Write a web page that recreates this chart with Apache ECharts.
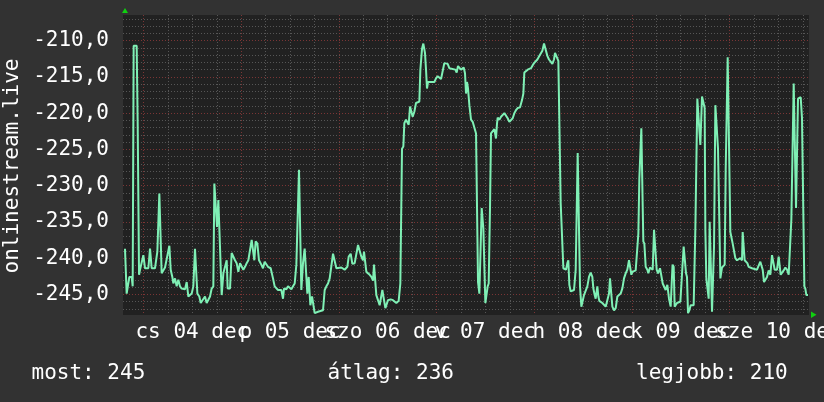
<!DOCTYPE html>
<html>
<head>
<meta charset="utf-8">
<script src="https://cdn.jsdelivr.net/npm/echarts@6/dist/echarts.min.js"></script>
<style>
html,body{margin:0;padding:0;background:#323232;}
#chart{width:824px;height:402px;}
</style>
</head>
<body>
<div id="chart"></div>
<script>
// hours since 04 dec 00:00
const hours = [-4.55,-4.14,-3.97,-3.48,-2.91,-2.66,-2.42,-1.68,-1.43,-1.10,-0.86,-0.45,-0.04,0.37,1.19,1.60,2.01,2.82,3.40,3.89,4.22,4.46,4.87,5.28,5.69,6.35,6.68,7.08,7.33,7.74,8.15,8.56,8.97,9.38,10.20,10.61,11.02,11.43,11.84,12.24,12.65,12.90,13.23,13.72,14.05,14.54,15.11,15.52,15.93,16.34,16.75,17.16,17.41,17.73,18.06,18.39,18.80,19.21,19.62,20.03,20.44,20.68,21.26,21.66,22.07,22.48,22.89,23.30,23.71,24.12,24.53,24.94,25.35,25.76,26.17,26.58,26.99,27.23,27.56,27.97,28.14,28.38,28.95,29.36,29.77,30.18,30.59,31.25,31.82,32.23,32.64,33.05,33.87,34.28,34.52,35.10,35.51,35.92,36.33,36.74,37.15,37.56,37.97,38.21,38.54,38.78,39.19,39.60,40.01,40.26,40.59,41.00,41.41,41.81,42.06,42.47,42.88,43.29,44.11,44.52,44.93,45.34,45.75,46.16,46.57,46.98,47.39,47.79,48.61,49.43,50.09,50.42,50.91,51.32,51.89,52.30,52.71,53.12,53.53,53.94,54.18,54.51,54.76,55.17,55.58,55.99,56.40,56.64,56.97,57.21,57.62,58.03,58.44,58.69,59.02,59.43,59.75,60.08,60.74,61.31,61.72,62.13,62.70,63.11,63.36,63.52,63.85,64.09,64.50,64.91,65.16,65.49,65.90,66.14,66.55,66.96,67.37,67.78,68.03,68.19,68.44,68.76,69.17,69.42,69.66,69.91,70.65,71.47,71.88,72.29,72.70,73.11,73.51,73.92,74.33,74.74,75.15,75.56,76.63,76.95,77.28,77.61,78.02,78.68,79.00,79.25,79.49,79.74,80.07,80.48,80.89,81.30,81.71,81.95,82.20,82.53,82.77,83.10,83.51,83.75,84.00,84.33,84.57,84.82,85.15,85.39,85.80,86.21,86.62,86.87,87.03,87.44,87.85,88.26,88.67,89.08,89.49,89.90,90.31,90.72,91.13,91.52,91.94,92.52,93.01,93.34,93.58,93.99,94.40,94.81,95.22,95.63,95.96,96.37,96.78,97.19,97.60,98.01,98.42,98.82,99.23,99.64,100.05,100.46,100.87,101.12,101.53,101.94,102.35,102.51,102.92,103.17,103.49,103.82,104.15,104.39,104.64,104.97,105.38,105.79,106.20,106.44,106.69,107.02,107.26,107.59,108.00,108.24,108.65,109.06,109.47,109.88,110.29,110.54,110.87,111.11,111.52,111.77,112.01,112.34,112.75,113.16,113.57,113.98,114.39,114.63,114.96,115.21,115.62,116.03,116.44,116.85,117.25,117.66,118.07,118.48,118.89,119.30,119.55,119.88,120.12,120.94,121.35,121.60,121.84,122.09,122.33,122.58,122.82,123.07,123.40,123.81,124.05,124.46,124.79,125.12,125.45,125.86,126.10,126.43,126.92,127.25,127.58,127.90,128.31,128.72,129.13,129.54,129.79,130.00,130.28,130.52,130.85,131.10,131.51,131.92,132.33,132.73,132.98,133.31,133.55,133.80,134.13,134.45,134.78,135.19,135.60,135.85,136.09,136.58,136.83,137.08,137.24,137.65,137.89,138.06,138.30,138.63,138.88,139.12,139.45,139.70,140.02,140.19,140.52,140.84,141.17,141.42,141.75,142.15,142.56,142.81,143.06,143.30,143.55,143.96,144.20,144.45,144.78,145.02,145.43,145.84,146.66,147.07,147.23,147.56,147.72,148.05,148.38,148.71,149.53,150.75,151.16,151.57,151.82,152.15,152.48,152.80,153.21,153.62,154.03,154.44,154.85,155.10,155.67,156.08,156.33,156.57,156.90,157.31,157.72,158.13,158.54,158.95,159.19,159.52,159.77,160.17,160.34,160.67,160.83,161.24,161.49,161.81,162.06,162.39,162.63,162.88,163.29];
const levels = [-238.7,-244.9,-244.9,-242.6,-242.6,-243.9,-210.7,-210.7,-221.5,-242.3,-241.6,-241.4,-239.6,-241.4,-241.4,-238.7,-241.4,-241.4,-239.1,-231.1,-231.1,-242.1,-242.1,-241.3,-241.2,-238.3,-241.6,-242.6,-243.5,-242.8,-243.9,-243.0,-243.9,-244.2,-244.3,-243.3,-245.3,-245.3,-244.9,-243.9,-238.7,-238.7,-244.9,-245.3,-246.2,-246.2,-245.3,-246.2,-246.2,-245.3,-244.2,-243.9,-229.7,-229.7,-235.7,-232.0,-232.0,-245.1,-242.1,-241.9,-240.3,-244.2,-244.2,-239.3,-239.3,-240.3,-240.7,-241.9,-240.7,-240.9,-241.6,-241.2,-240.7,-240.3,-240.3,-237.5,-237.5,-240.3,-237.7,-238.0,-238.2,-240.3,-240.9,-241.4,-240.5,-240.5,-241.2,-241.4,-242.8,-243.9,-243.7,-244.4,-244.4,-245.6,-244.2,-244.3,-243.9,-243.7,-244.3,-243.9,-243.5,-240.9,-240.7,-227.8,-227.8,-244.4,-240.7,-238.7,-238.7,-244.9,-242.6,-246.5,-245.3,-245.3,-247.6,-247.6,-247.4,-247.2,-247.2,-244.4,-243.9,-243.5,-242.8,-242.6,-239.4,-239.4,-241.4,-241.2,-241.3,-241.6,-241.2,-239.8,-239.4,-240.8,-240.7,-240.5,-238.2,-238.3,-239.8,-240.3,-239.1,-239.1,-241.9,-242.1,-242.3,-242.6,-243.1,-240.9,-240.9,-245.1,-245.8,-246.5,-246.7,-244.4,-244.4,-246.9,-246.9,-245.8,-245.7,-245.8,-246.0,-246.2,-245.9,-243.5,-243.5,-224.9,-224.6,-221.4,-220.9,-220.7,-221.6,-219.1,-219.2,-220.5,-219.8,-218.6,-218.4,-218.4,-214.0,-214.0,-211.1,-210.4,-211.7,-214.0,-216.6,-215.7,-215.7,-215.7,-215.2,-214.9,-215.1,-215.3,-215.4,-213.1,-213.1,-213.2,-213.8,-214.0,-214.0,-214.4,-213.5,-213.6,-214.0,-213.7,-214.5,-217.3,-215.7,-216.6,-218.9,-220.9,-221.2,-221.3,-222.8,-222.8,-243.3,-244.9,-244.9,-233.1,-235.9,-235.9,-246.2,-246.2,-243.9,-243.5,-232.9,-222.8,-222.8,-222.2,-223.5,-221.4,-220.6,-220.9,-220.5,-220.7,-220.0,-219.9,-220.7,-221.2,-221.3,-220.7,-220.0,-219.6,-219.3,-219.2,-218.2,-217.3,-214.4,-214.3,-214.0,-213.9,-213.8,-213.4,-213.1,-213.0,-212.6,-212.2,-212.0,-211.4,-210.4,-210.3,-212.1,-212.6,-212.9,-213.2,-212.6,-211.7,-211.8,-212.8,-212.9,-232.4,-232.4,-241.4,-241.6,-241.6,-240.7,-240.3,-243.7,-244.6,-244.6,-244.4,-241.6,-241.6,-225.5,-225.5,-243.9,-246.7,-246.7,-245.1,-244.9,-243.9,-242.6,-242.0,-242.6,-244.2,-245.1,-245.6,-243.9,-245.3,-245.9,-246.0,-246.2,-246.2,-246.7,-246.9,-244.9,-242.8,-242.9,-246.7,-247.2,-246.9,-245.3,-245.1,-244.9,-244.2,-242.8,-242.1,-241.6,-240.3,-240.3,-242.3,-241.9,-241.7,-241.6,-236.6,-229.0,-228.8,-222.1,-222.1,-237.7,-238.0,-241.2,-241.6,-242.1,-241.3,-241.4,-241.6,-236.1,-236.1,-241.6,-242.1,-241.4,-241.4,-243.5,-243.5,-244.4,-243.7,-245.6,-246.7,-243.5,-240.9,-241.2,-246.7,-246.7,-246.2,-246.0,-246.0,-246.2,-238.4,-238.5,-242.1,-242.6,-247.6,-247.2,-246.5,-246.7,-246.5,-236.1,-236.0,-218.0,-218.0,-224.4,-224.5,-217.7,-217.7,-219.3,-236.1,-242.8,-243.0,-245.6,-235.0,-235.0,-247.4,-247.4,-238.4,-218.9,-218.9,-224.9,-224.9,-242.8,-241.3,-241.2,-240.9,-227.8,-227.8,-212.3,-212.3,-236.4,-236.6,-238.0,-238.2,-240.0,-240.3,-240.0,-240.3,-236.4,-236.4,-240.3,-240.3,-240.7,-241.2,-241.4,-241.6,-241.7,-240.5,-240.5,-241.6,-243.3,-243.5,-242.6,-241.7,-242.3,-239.6,-239.6,-241.6,-241.6,-239.8,-239.7,-242.3,-242.3,-241.7,-241.3,-241.6,-242.3,-242.3,-234.7,-234.7,-215.9,-216.0,-233.1,-233.1,-218.0,-217.8,-217.8,-220.7,-220.7,-243.9,-244.2,-245.1,-245.1];

const dayLabels = ['cs 04 dec','p 05 dec','szo 06 dec','v 07 dec','h 08 dec','k 09 dec','sze 10 dec'];
const yTickValues = [-245,-240,-235,-230,-225,-220,-215,-210];
const yAxisTitle = 'onlinestream.live';
const legendTexts = ['most: 245','átlag: 236','legjobb: 210'];

const XMIN = -5.04, XMAX = 163.53, YMIN = -247.85, YMAX = -206.46;

// grid line positions (hours / units)
const majorX = [], minorX = [];
for (let h = 0; h <= XMAX; h += 6) { if (h % 24 === 0) majorX.push(h); else minorX.push(h); }
const labelEven = [], labelOdd = [];
dayLabels.forEach((_, i) => (i % 2 === 0 ? labelEven : labelOdd).push(12 + 24 * i));
const minorY = [];
for (let v = -247; v <= -207; v++) { if (v % 5 !== 0) minorY.push(v); }

const FONT = 'DejaVu Sans Mono';
const minorStyle = { color: '#565656', width: 1, type: [1, 2] };
const majorStyle = { color: '#7a3535', width: 1, type: [1, 2] };

const chart = echarts.init(document.getElementById('chart'), null, { renderer: 'canvas' });
const base = { type: 'value', min: XMIN, max: XMAX, gridIndex: 0, position: 'bottom',
  axisLine: { show: false }, axisLabel: { show: false } };
function labelAxis(vals) {
  return Object.assign({}, base, {
    axisTick: { show: false, customValues: vals }, splitLine: { show: false },
    axisLabel: { show: true, customValues: vals, margin: 7, color: '#ffffff', fontFamily: FONT, fontSize: 21,
      showMinLabel: true, showMaxLabel: true, hideOverlap: false,
      formatter: function (v) { const i = Math.round((v - 12) / 24); return dayLabels[i] || ''; } }
  });
}
chart.setOption({
  backgroundColor: '#323232',
  animation: false,
  grid: { left: 123, right: 15, top: 15, bottom: 87, show: true, backgroundColor: '#212121', borderWidth: 0,
    containLabel: false, outerBoundsMode: 'none' },
  xAxis: [
    Object.assign({}, base, { axisTick: { show: false, customValues: minorX }, splitLine: { show: true, lineStyle: minorStyle } }),
    Object.assign({}, base, { axisTick: { show: false, customValues: majorX }, splitLine: { show: true, lineStyle: majorStyle } }),
    labelAxis(labelEven),
    labelAxis(labelOdd)
  ],
  yAxis: [
    { type: 'value', min: YMIN, max: YMAX, position: 'left', axisLine: { show: false }, axisLabel: { show: false },
      axisTick: { show: false, customValues: minorY }, splitLine: { show: true, lineStyle: minorStyle } },
    { type: 'value', min: YMIN, max: YMAX, position: 'left', axisLine: { show: false },
      axisTick: { show: false, customValues: yTickValues }, splitLine: { show: true, lineStyle: majorStyle },
      axisLabel: { show: true, customValues: yTickValues, margin: 14, color: '#ffffff', fontFamily: FONT, fontSize: 21,
        showMinLabel: true, showMaxLabel: true,
        formatter: function (v) { return v.toFixed(1).replace('.', ','); } } }
  ],
  series: [{
    type: 'line', xAxisIndex: 0, yAxisIndex: 0,
    data: hours.map((h, i) => [h, levels[i]]),
    showSymbol: false, symbol: 'none', smooth: false, clip: true,
    lineStyle: { color: '#7ff0b5', width: 2 }, z: 10
  }],
  graphic: [
    { type: 'text', x: 12.5, y: 166, rotation: Math.PI / 2,
      style: { text: yAxisTitle, fill: '#ffffff', font: '21px "DejaVu Sans Mono"', textAlign: 'center', textVerticalAlign: 'middle' } },
    { type: 'text', x: 31.5, y: 374, style: { text: legendTexts[0], fill: '#ffffff', font: '21px "DejaVu Sans Mono"', textAlign: 'left', textVerticalAlign: 'middle' } },
    { type: 'text', x: 327.5, y: 374, style: { text: legendTexts[1], fill: '#ffffff', font: '21px "DejaVu Sans Mono"', textAlign: 'left', textVerticalAlign: 'middle' } },
    { type: 'text', x: 636, y: 374, style: { text: legendTexts[2], fill: '#ffffff', font: '21px "DejaVu Sans Mono"', textAlign: 'left', textVerticalAlign: 'middle' } },
    { type: 'polygon', shape: { points: [[122, 13], [128, 13], [125, 8]] }, style: { fill: '#10d010' } },
    { type: 'polygon', shape: { points: [[811, 311.5], [811, 318], [816.5, 314.7]] }, style: { fill: '#10d010' } }
  ]
});
</script>
</body>
</html>
